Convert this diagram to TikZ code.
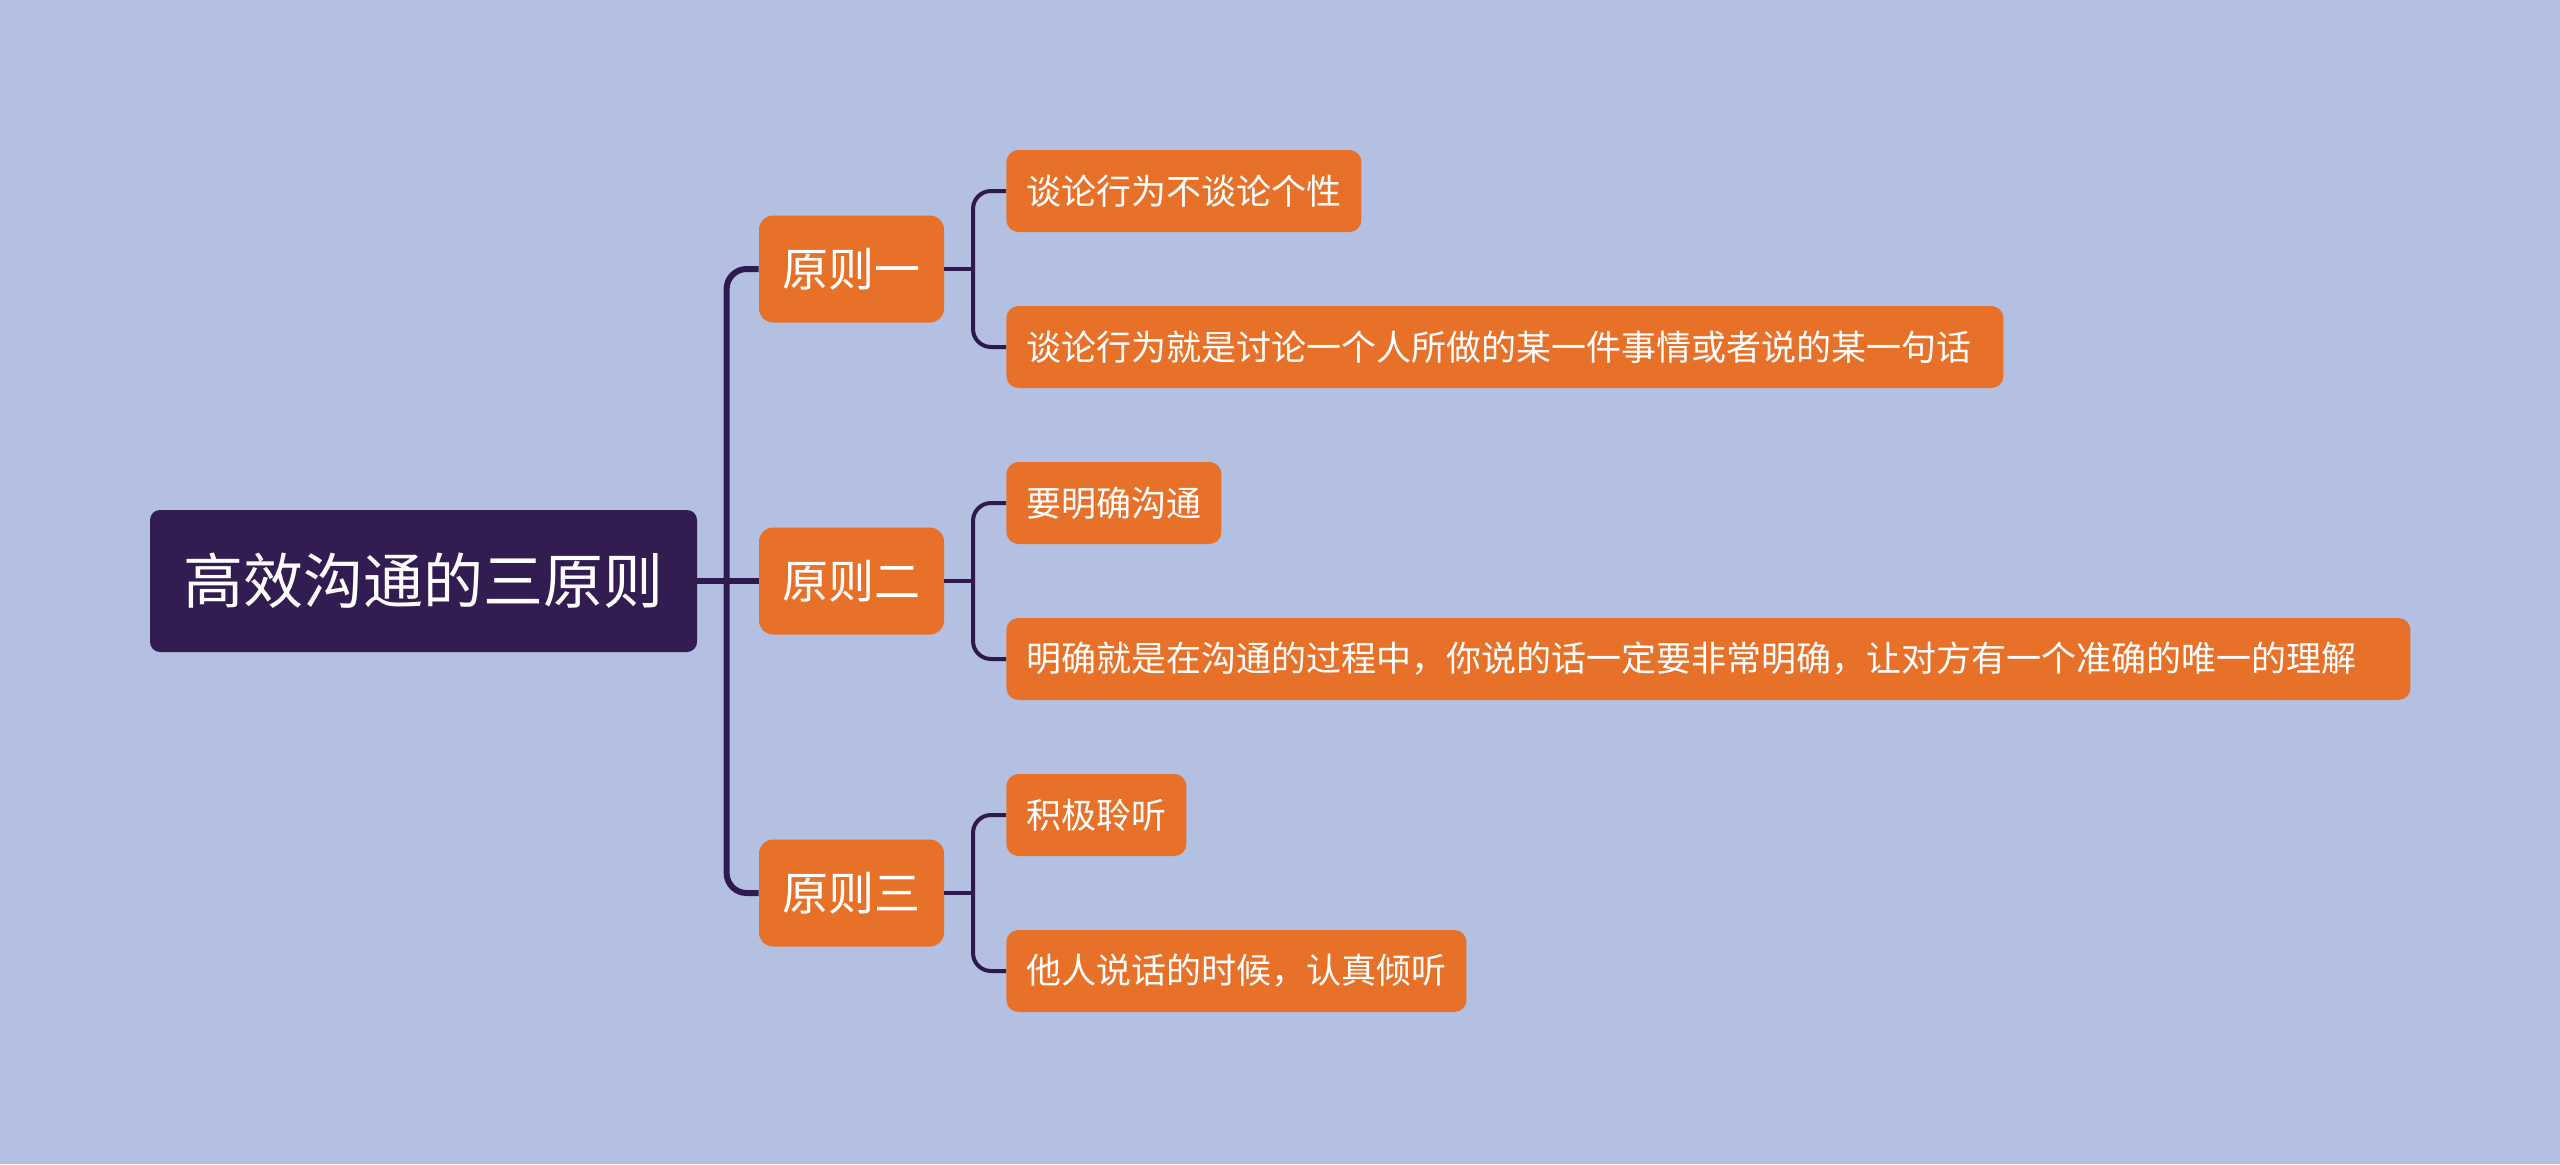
\documentclass[tikz,border=0pt]{standalone}
\usepackage{fontspec}
\setmainfont{Noto Sans CJK SC}
\definecolor{bgc}{HTML}{B3C0E2}
\definecolor{rootc}{HTML}{331C52}
\definecolor{orangec}{HTML}{E8712A}
\definecolor{linec}{HTML}{2E1A4F}
\tikzset{
  rootbox/.style={fill=rootc, text=white, rounded corners=5pt, minimum width=273.5pt, minimum height=71pt, inner sep=0pt, font=\fontsize{30pt}{36pt}\selectfont},
  pbox/.style={fill=orangec, text=white, rounded corners=7pt, minimum width=92.5pt, minimum height=53.5pt, inner sep=0pt, font=\fontsize{23pt}{28pt}\selectfont},
  leafbox/.style={fill=orangec, text=white, rounded corners=6pt, minimum height=41pt, inner xsep=10pt, inner ysep=0pt, anchor=west, font=\fontsize{17.5pt}{21pt}\selectfont},
  mainline/.style={draw=linec, line width=3pt, rounded corners=10pt},
  subline/.style={draw=linec, line width=2pt, rounded corners=9pt}
}
\begin{document}
\begin{tikzpicture}[x=0.5pt,y=-0.5pt]
\fill[bgc] (0,0) rectangle (2560,1164);
\useasboundingbox (0,0) rectangle (2560,1164);

\node[rootbox] (root) at (423.5,581) {高效沟通的三原则};
\node[pbox] (p1) at (851.5,269) {原则一};
\node[pbox] (p2) at (851.5,581) {原则二};
\node[pbox] (p3) at (851.5,893) {原则三};

\node[leafbox] (l1) at (1006,191) {谈论行为不谈论个性};
\node[leafbox, text width=478.5pt, align=left] (l2) at (1006,347) {谈论行为就是讨论一个人所做的某一件事情或者说的某一句话};
\node[leafbox] (l3) at (1006,503) {要明确沟通};
\node[leafbox, text width=682pt, align=left] (l4) at (1006,659) {明确就是在沟通的过程中，你说的话一定要非常明确，让对方有一个准确的唯一的理解};
\node[leafbox] (l5) at (1006,815) {积极聆听};
\node[leafbox] (l6) at (1006,971) {他人说话的时候，认真倾听};

\draw[mainline] (p1.west) -- ++(-16pt,0) |- (p3.west);
\draw[mainline] (root.east) -- (p2.west);

\draw[subline] (l1.west) -- ++(-16.5pt,0) |- (l2.west);
\draw[subline] (p1.east) -- ++(14.5pt,0);
\draw[subline] (l3.west) -- ++(-16.5pt,0) |- (l4.west);
\draw[subline] (p2.east) -- ++(14.5pt,0);
\draw[subline] (l5.west) -- ++(-16.5pt,0) |- (l6.west);
\draw[subline] (p3.east) -- ++(14.5pt,0);
\end{tikzpicture}
\end{document}
